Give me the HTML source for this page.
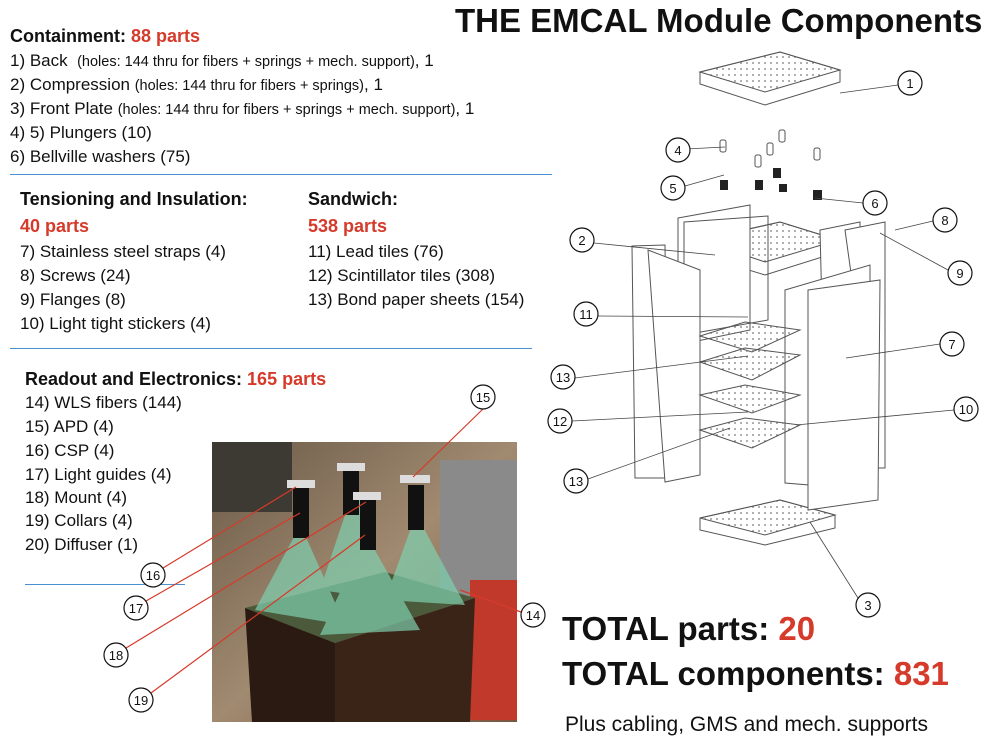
<!DOCTYPE html>
<html><head><meta charset="utf-8"><style>
html,body{margin:0;padding:0;background:#fff;}
body{width:1003px;height:744px;position:relative;overflow:hidden;font-family:"Liberation Sans",sans-serif;color:#111;}
.t{position:absolute;white-space:nowrap;font-size:17px;}
.b{font-weight:bold;font-size:18px;}
.r{color:#d63a2a;font-weight:bold;font-size:18px;}
.s{font-size:14.5px;}
</style></head><body>
<div class="t b" style="left:455px;top:2px;font-size:33px;">THE EMCAL Module Components</div>
<div class="t" style="left:10px;top:26px;"><span class="b">Containment: </span><span class="r">88 parts</span></div>
<div class="t" style="left:10px;top:51px;">1) Back &nbsp;<span class="s">(holes: 144 thru for fibers + springs + mech. support)</span>, 1</div>
<div class="t" style="left:10px;top:75px;">2) Compression <span class="s">(holes: 144 thru for fibers + springs)</span>, 1</div>
<div class="t" style="left:10px;top:99px;">3) Front Plate <span class="s">(holes: 144 thru for fibers + springs + mech. support)</span>, 1</div>
<div class="t" style="left:10px;top:123px;">4) 5) Plungers (10)</div>
<div class="t" style="left:10px;top:147px;">6) Bellville washers (75)</div>
<div style="position:absolute;left:10px;top:174px;width:542px;height:1px;background:#4a8fd0"></div>
<div class="t b" style="left:20px;top:189px;">Tensioning and Insulation:</div>
<div class="t r" style="left:20px;top:216px;">40 parts</div>
<div class="t" style="left:20px;top:242px;">7) Stainless steel straps (4)</div>
<div class="t" style="left:20px;top:266px;">8) Screws (24)</div>
<div class="t" style="left:20px;top:290px;">9) Flanges (8)</div>
<div class="t" style="left:20px;top:314px;">10) Light tight stickers (4)</div>
<div class="t b" style="left:308px;top:189px;">Sandwich:</div>
<div class="t r" style="left:308px;top:216px;">538 parts</div>
<div class="t" style="left:308px;top:242px;">11) Lead tiles (76)</div>
<div class="t" style="left:308px;top:266px;">12) Scintillator tiles (308)</div>
<div class="t" style="left:308px;top:290px;">13) Bond paper sheets (154)</div>
<div style="position:absolute;left:10px;top:348px;width:522px;height:1px;background:#4a8fd0"></div>
<div class="t" style="left:25px;top:369px;"><span class="b">Readout and Electronics: </span><span class="r">165 parts</span></div>
<div class="t" style="left:25px;top:393px;">14) WLS fibers (144)</div>
<div class="t" style="left:25px;top:417px;">15) APD (4)</div>
<div class="t" style="left:25px;top:441px;">16) CSP (4)</div>
<div class="t" style="left:25px;top:465px;">17) Light guides (4)</div>
<div class="t" style="left:25px;top:488px;">18) Mount (4)</div>
<div class="t" style="left:25px;top:511px;">19) Collars (4)</div>
<div class="t" style="left:25px;top:535px;">20) Diffuser (1)</div>
<div style="position:absolute;left:25px;top:584px;width:160px;height:1px;background:#4a8fd0"></div>
<div class="t" style="left:562px;top:610px;font-size:33px;font-weight:bold;">TOTAL parts: <span style="color:#d63a2a">20</span></div>
<div class="t" style="left:562px;top:655px;font-size:33px;font-weight:bold;">TOTAL components: <span style="color:#d63a2a">831</span></div>
<div class="t" style="left:565px;top:713px;font-size:21px;">Plus cabling, GMS and mech. supports</div>

<svg style="position:absolute;left:0;top:0" width="1003" height="744">
<defs>
<pattern id="dots" width="6" height="6" patternUnits="userSpaceOnUse"><circle cx="3" cy="3" r="0.9" fill="#777"/></pattern>
<linearGradient id="bg" x1="0" y1="0" x2="1" y2="1"><stop offset="0" stop-color="#6b5a48"/><stop offset="0.5" stop-color="#a08a70"/><stop offset="1" stop-color="#7a5540"/></linearGradient>
</defs>
<rect x="212" y="442" width="305" height="280" fill="url(#bg)"/>
<rect x="212" y="442" width="80" height="70" fill="#3c3a33"/>
<rect x="440" y="460" width="77" height="160" fill="#8a8a8a"/>
<rect x="470" y="580" width="47" height="140" fill="#c0392b"/>
<polygon points="245,608 385,572 475,598 335,643" fill="#4a5a3a"/>
<polygon points="245,608 335,643 335,722 252,722" fill="#2a1a12"/>
<polygon points="335,643 475,598 470,722 335,722" fill="#3a2418"/>
<g fill="#7fd0b0" opacity="0.7">
<polygon points="295,535 305,535 345,625 255,610"/>
<polygon points="350,500 360,500 390,600 320,590"/>
<polygon points="362,545 372,545 420,630 320,635"/>
<polygon points="412,525 422,525 465,605 385,600"/>
</g>
<g fill="#111"><rect x="293" y="488" width="16" height="50"/><rect x="343" y="470" width="16" height="45"/><rect x="360" y="500" width="16" height="50"/><rect x="408" y="485" width="16" height="45"/></g>
<g fill="#ddd"><rect x="287" y="480" width="28" height="8"/><rect x="337" y="463" width="28" height="8"/><rect x="353" y="492" width="28" height="8"/><rect x="400" y="475" width="30" height="8"/></g>
<g stroke="#d63a2a" stroke-width="1.2" fill="none">
<line x1="483" y1="409" x2="413" y2="477"/>
<line x1="163" y1="568" x2="296" y2="487"/>
<line x1="146" y1="601" x2="300" y2="513"/>
<line x1="126" y1="648" x2="366" y2="502"/>
<line x1="151" y1="693" x2="365" y2="535"/>
<line x1="521" y1="612" x2="460" y2="590"/>
</g>
<g stroke="#555" stroke-width="1" fill="#fff">
<polygon points="700,72 780,52 840,70 840,82 765,105 700,84"/>
<polygon points="700,72 780,52 840,70 765,92" fill="url(#dots)"/>
<polygon points="700,240 780,222 838,240 838,252 765,275 700,255"/>
<polygon points="700,240 780,222 838,240 765,262" fill="url(#dots)"/>
<polygon points="700,518 780,500 835,515 835,528 765,545 700,530"/>
<polygon points="700,518 780,500 835,515 765,535" fill="url(#dots)"/>
<polygon points="678,218 750,205 750,330 678,345"/>
<polygon points="684,222 768,216 768,320 684,335" fill="none"/>
<polygon points="632,246 665,245 668,478 635,478"/>
<polygon points="648,250 700,270 700,475 665,482"/>
<polygon points="820,230 860,222 860,420 825,430"/>
<polygon points="845,230 885,222 885,468 878,468"/>
<polygon points="785,290 870,265 870,490 785,483"/>
<polygon points="808,290 880,280 878,500 808,510"/>
<polygon points="700,336 745,322 800,330 752,352" fill="url(#dots)"/>
<polygon points="700,362 745,348 800,355 752,380" fill="url(#dots)"/>
<polygon points="700,395 745,385 800,395 752,413" fill="url(#dots)"/>
<polygon points="700,430 745,418 800,425 752,448" fill="url(#dots)"/>
</g>
<g fill="#222"><rect x="720" y="180" width="8" height="10"/><rect x="755" y="180" width="8" height="10"/><rect x="773" y="168" width="8" height="10"/><rect x="779" y="184" width="8" height="8"/><rect x="813" y="190" width="9" height="10"/></g>
<g fill="none" stroke="#555"><rect x="720" y="140" width="6" height="12" rx="2"/><rect x="755" y="155" width="6" height="12" rx="2"/><rect x="767" y="143" width="6" height="12" rx="2"/><rect x="779" y="130" width="6" height="12" rx="2"/><rect x="814" y="148" width="6" height="12" rx="2"/></g>
<g stroke="#444" stroke-width="0.8" fill="none">
<line x1="898" y1="85" x2="840" y2="93"/><line x1="666" y1="150" x2="725" y2="147"/><line x1="685" y1="186" x2="724" y2="175"/>
<line x1="863" y1="203" x2="815" y2="198"/><line x1="933" y1="221" x2="895" y2="230"/><line x1="948" y1="270" x2="880" y2="233"/>
<line x1="594" y1="243" x2="715" y2="255"/><line x1="598" y1="316" x2="748" y2="317"/><line x1="940" y1="344" x2="846" y2="358"/>
<line x1="575" y1="378" x2="748" y2="356"/><line x1="954" y1="410" x2="796" y2="425"/><line x1="572" y1="421" x2="748" y2="412"/>
<line x1="588" y1="479" x2="730" y2="428"/><line x1="858" y1="598" x2="810" y2="522"/>
</g>
<g fill="#fff" stroke="#111" stroke-width="1.2">
<circle cx="910" cy="83" r="12"/><circle cx="678" cy="150" r="12"/><circle cx="673" cy="188" r="12"/><circle cx="875" cy="203" r="12"/>
<circle cx="945" cy="220" r="12"/><circle cx="960" cy="273" r="12"/><circle cx="582" cy="240" r="12"/><circle cx="586" cy="314" r="12"/>
<circle cx="952" cy="344" r="12"/><circle cx="563" cy="377" r="12"/><circle cx="966" cy="409" r="12"/><circle cx="560" cy="421" r="12"/>
<circle cx="576" cy="481" r="12"/><circle cx="868" cy="605" r="12"/>
<circle cx="483" cy="397" r="12"/><circle cx="153" cy="575" r="12"/><circle cx="136" cy="608" r="12"/><circle cx="116" cy="655" r="12"/><circle cx="141" cy="700" r="12"/><circle cx="533" cy="615" r="12"/>
</g>
<g font-family="Liberation Sans, sans-serif" font-size="13" text-anchor="middle" fill="#111">
<text x="910" y="88">1</text><text x="678" y="155">4</text><text x="673" y="193">5</text><text x="875" y="208">6</text>
<text x="945" y="225">8</text><text x="960" y="278">9</text><text x="582" y="245">2</text><text x="586" y="319">11</text>
<text x="952" y="349">7</text><text x="563" y="382">13</text><text x="966" y="414">10</text><text x="560" y="426">12</text>
<text x="576" y="486">13</text><text x="868" y="610">3</text>
<text x="483" y="402">15</text><text x="153" y="580">16</text><text x="136" y="613">17</text><text x="116" y="660">18</text><text x="141" y="705">19</text><text x="533" y="620">14</text>
</g>
</svg>
</body></html>
